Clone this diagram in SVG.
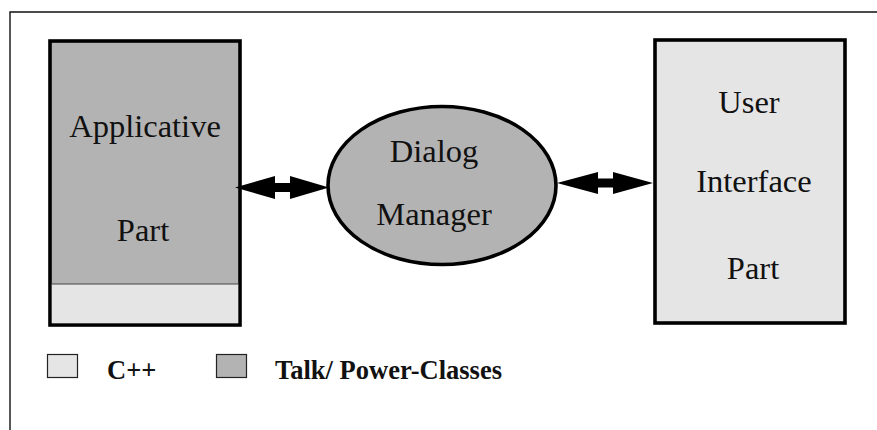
<svg xmlns="http://www.w3.org/2000/svg" width="877" height="430" viewBox="0 0 877 430">
  <style>
    .frame { stroke: #111; stroke-width: 1.4; fill: none; }
    .node { stroke: #000; stroke-width: 3.6; }
    .dark { fill: #b3b3b3; }
    .light { fill: #e5e5e5; }
    .label { font-family: "Liberation Serif", "Times New Roman", serif; font-size: 32.5px; fill: #111; text-anchor: middle; }
    .legend-text { font-family: "Liberation Serif", "Times New Roman", serif; font-size: 26.5px; font-weight: bold; fill: #111; }
    .swatch { stroke: #222; stroke-width: 1.2; }
    .arrow { fill: #000; }
  </style>

  <!-- page frame -->
  <path class="frame" d="M10,430 V12 H877"/>

  <g id="applicative-part">
    <rect class="node dark" x="50" y="41" width="190" height="284"/>
    <rect class="light" x="51.8" y="284" width="186.4" height="39.2"/>
    <line x1="51.8" y1="284" x2="238.2" y2="284" stroke="#444" stroke-width="1.2"/>
    <text class="label" x="145" y="137">Applicative</text>
    <text class="label" x="143" y="241">Part</text>
  </g>

  <g id="dialog-manager">
    <ellipse class="node dark" cx="442" cy="185.5" rx="114" ry="79"/>
    <text class="label" x="434" y="162">Dialog</text>
    <text class="label" x="434" y="225">Manager</text>
  </g>

  <g id="user-interface-part">
    <rect class="node light" x="655" y="40" width="190" height="283"/>
    <text class="label" x="749" y="113">User</text>
    <text class="label" x="754" y="192">Interface</text>
    <text class="label" x="753" y="279">Part</text>
  </g>

  <g id="connectors">
    <polygon class="arrow" points="235,187.5 275,176 275,183 290,183 290,176 329,187.5 290,199 290,192 275,192 275,199"/>
    <polygon class="arrow" points="557,183 598,172 598,178.5 613,178.5 613,172 653,183 613,194 613,187.5 598,187.5 598,194"/>
  </g>

  <g id="legend">
    <rect class="swatch light" x="47.5" y="354.5" width="30" height="23"/>
    <text class="legend-text" x="107" y="379">C++</text>
    <rect class="swatch dark" x="216.5" y="354.5" width="30" height="23"/>
    <text class="legend-text" x="275" y="379">Talk/ Power-Classes</text>
  </g>
</svg>
